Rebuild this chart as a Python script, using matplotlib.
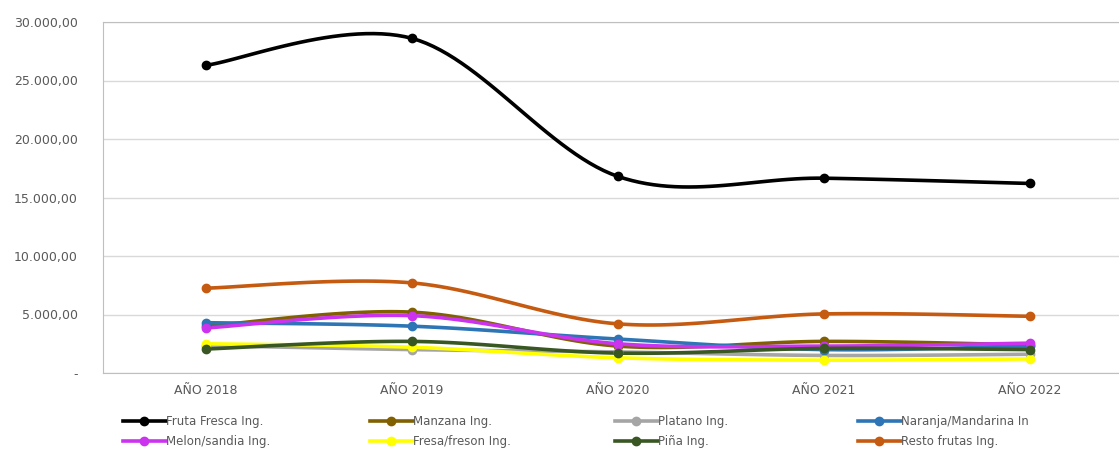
import numpy as np
import matplotlib.pyplot as plt
from matplotlib.ticker import FuncFormatter

years = ['AÑO 2018', 'AÑO 2019', 'AÑO 2020', 'AÑO 2021', 'AÑO 2022']

fruta_fresca = [26300, 28600, 16800, 16650, 16200]
manzana = [4000, 5200, 2300, 2700, 2400]
platano = [2350, 2000, 1800, 1500, 1600]
naranja = [4300, 4000, 2900, 2000, 2300]
melon = [3850, 4900, 2500, 2300, 2550]
fresa = [2500, 2200, 1300, 1100, 1200]
pina = [2050, 2700, 1700, 2100, 2000]
resto = [7250, 7700, 4200, 5050, 4850]

names = ['Fruta Fresca Ing.', 'Manzana Ing.', 'Platano Ing.', 'Naranja/Mandarina In',
         'Melon/sandia Ing.', 'Fresa/freson Ing.', 'Piña Ing.', 'Resto frutas Ing.']
series = [fruta_fresca, manzana, platano, naranja, melon, fresa, pina, resto]
colors = ['#000000', '#806000', '#a5a5a5', '#2e75b6',
          '#cc33ee', '#ffff00', '#385723', '#c55a11']


def smooth(x, y, n=30):
    # Catmull-Rom style smoothing, like Excel's "smoothed line"
    x = np.asarray(x, float)
    y = np.asarray(y, float)
    px = np.concatenate([[x[0]], x, [x[-1]]])
    py = np.concatenate([[y[0]], y, [y[-1]]])
    xs, ys = [], []
    t = np.linspace(0, 1, n)
    for i in range(1, len(px) - 2):
        p0, p1, p2, p3 = (np.array([px[j], py[j]]) for j in (i - 1, i, i + 1, i + 2))
        c1 = p1 + (p2 - p0) / 6
        c2 = p2 - (p3 - p1) / 6
        b = ((1 - t) ** 3)[:, None] * p1 + (3 * (1 - t) ** 2 * t)[:, None] * c1 \
            + (3 * (1 - t) * t ** 2)[:, None] * c2 + (t ** 3)[:, None] * p2
        xs.extend(b[:, 0])
        ys.extend(b[:, 1])
    return xs, ys


fig = plt.figure(figsize=(11.19, 4.5), dpi=100)
ax = fig.add_axes([103 / 1119, 1 - 373 / 450, 5 * 206 / 1119, 351 / 450])

xpos = np.arange(len(years))
handles = []
for vals, name, c in zip(series, names, colors):
    sx, sy = smooth(xpos, vals)
    ax.plot(sx, sy, color=c, lw=2.6, solid_capstyle='round', zorder=3)
    ax.plot(xpos, vals, 'o', color=c, ms=6, zorder=4)
    h, = ax.plot([], [], color=c, lw=2.6, marker='o', ms=6, label=name)
    handles.append(h)

ax.set_xlim(-0.5, 4.5)
ax.set_ylim(0, 30000)
ax.set_yticks(range(0, 30001, 5000))
ax.yaxis.set_major_formatter(FuncFormatter(
    lambda v, p: '-' if v == 0 else f'{v:,.2f}'.replace(',', 'X').replace('.', ',').replace('X', '.')))
ax.set_xticks(xpos)
ax.set_xticklabels(years)
ax.grid(axis='y', color='#d9d9d9', lw=1)
ax.set_axisbelow(True)
for s in ax.spines.values():
    s.set_color('#bfbfbf')
ax.tick_params(axis='both', length=0, labelsize=9, labelcolor='#595959', pad=8)
ax.tick_params(axis='y', pad=18)

# legend: 4 columns, 2 rows, filled row by row
col_x = [123, 370, 615, 858]
for k, x0 in enumerate(col_x):
    hs = [handles[k], handles[k + 4]]
    leg = fig.legend(handles=hs, labels=[h.get_label() for h in hs],
                     loc='upper left', bbox_to_anchor=(x0 / 1119, 1 - 415 / 450),
                     frameon=False, fontsize=8.5, labelcolor='#595959',
                     handlelength=3.6, handletextpad=0.05, labelspacing=0.6,
                     borderpad=0, borderaxespad=0)

fig.savefig('out.png', dpi=100)
